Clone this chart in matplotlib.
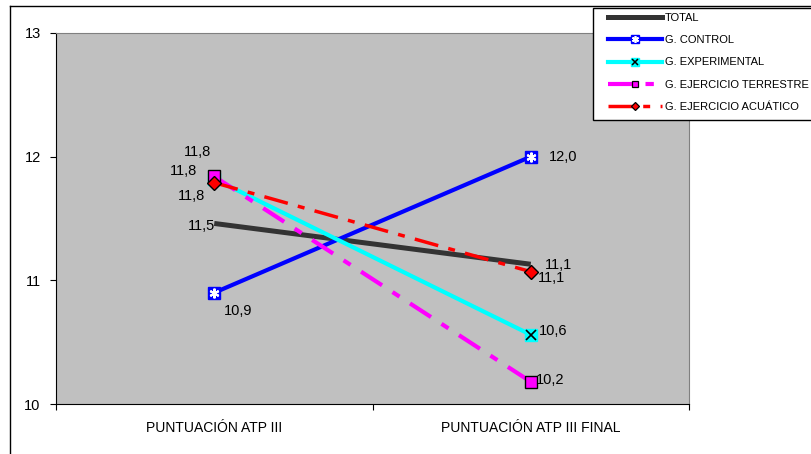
import matplotlib
matplotlib.use("Agg")
import matplotlib.pyplot as plt
from matplotlib.lines import Line2D
from matplotlib.patches import Rectangle

plt.rcParams['font.family'] = ['Liberation Sans', 'DejaVu Sans']

categories = ["PUNTUACIÓN ATP III", "PUNTUACIÓN ATP III FINAL"]
series_names = ["TOTAL", "G. CONTROL", "G. EXPERIMENTAL",
                "G. EJERCICIO TERRESTRE", "G. EJERCICIO ACUÁTICO"]
total = [11.46, 11.13]
control = [10.90, 12.00]
experimental = [11.82, 10.56]
terrestre = [11.84, 10.18]
acuatico = [11.79, 11.07]

fig = plt.figure(figsize=(8.11, 4.54), dpi=100)
ax = fig.add_axes([56/811, 1-404/454, (689-56)/811, (404-33)/454])
ax.set_facecolor("#c0c0c0")

x = [0, 1]
lw = 3.0
ax.plot(x, total, color="#333333", lw=lw+0.6, solid_capstyle="butt")
ax.plot(x, control, color="#0000ff", lw=lw, marker="s", ms=8,
        mfc="#0000ff", mec="#0000ff")
ax.plot(x, control, ls="none", marker=(6, 2, 0), ms=7, mec="white", mew=1.5)
ax.plot(x, experimental, color="#00ffff", lw=lw, marker="s", ms=8,
        mfc="#00ffff", mec="#00ffff")
ax.plot(x, experimental, ls="none", marker="x", ms=7, mec="black", mew=1.2)
ax.plot(x, terrestre, color="#ff00ff", lw=lw, ls=(0, (6, 3, 2, 3)),
        marker="s", ms=8, mfc="#ff00ff", mec="black", mew=1)
ax.plot(x, acuatico, color="#ff0000", lw=lw-0.5, ls=(0, (7, 3, 2, 3)),
        marker="D", ms=7, mfc="#ff0000", mec="black", mew=1)

ax.set_xlim(-0.5, 1.5)
ax.set_ylim(10, 13)
ax.set_yticks([10, 11, 12, 13])
ax.set_xticks([-0.5, 0.5, 1.5])
ax.set_xticklabels([])
ax.set_xticks(x, minor=True)
ax.set_xticklabels(categories, minor=True, fontsize=10)
ax.tick_params(axis="x", which="minor", length=0, pad=12)
ax.tick_params(axis="x", which="major", length=4, direction="out")
ax.tick_params(axis="y", length=4, direction="out", labelsize=10.5, pad=7)
ax.spines["top"].set_color("#808080")
ax.spines["right"].set_color("#808080")

# data labels (offsets in pixels)
labels = [
    (0, experimental[0], (-17, 27)),
    (0, terrestre[0], (-31, 5)),
    (0, acuatico[0], (-23, -13)),
    (0, total[0], (-13, -3)),
    (0, control[0], (24, -18)),
    (1, control[1], (32, 0)),
    (1, total[1], (28, -1)),
    (1, acuatico[1], (21, -6)),
    (1, experimental[1], (22, 4)),
    (1, terrestre[1], (19, 2)),
]
for xi, v, off in labels:
    ax.annotate(f"{v:.1f}".replace(".", ","), (xi, v), xytext=off,
                textcoords="offset pixels", ha="center", va="center", fontsize=10.5)

# outer chart frame
fig.add_artist(Line2D([10/811, 10/811], [0, 1-6/454], transform=fig.transFigure,
                      color="black", lw=1))
fig.add_artist(Line2D([10/811, 1], [1-6/454, 1-6/454], transform=fig.transFigure,
                      color="black", lw=1))

# legend frame drawn separately
fig.add_artist(Rectangle((593/811, 1-120/454), 230/811, 112/454,
                         transform=fig.transFigure, facecolor="white",
                         edgecolor="black", lw=1, zorder=2))

# legend proxies (smaller markers as in the original)
lg = [
    Line2D([], [], color="#333333", lw=lw+0.6),
    (Line2D([], [], color="#0000ff", lw=lw, marker="s", ms=6, mfc="#0000ff", mec="#0000ff"),
     Line2D([], [], ls="none", marker=(6, 2, 0), ms=5, mec="white", mew=1.2)),
    (Line2D([], [], color="#00ffff", lw=lw, marker="s", ms=6, mfc="#00ffff", mec="#00ffff"),
     Line2D([], [], ls="none", marker="x", ms=5, mec="black", mew=1.1)),
    Line2D([], [], color="#ff00ff", lw=lw, ls=(0, (6, 3, 2, 3)), marker="s", ms=4.5,
           mfc="#ff00ff", mec="black", mew=0.9),
    Line2D([], [], color="#ff0000", lw=lw-0.5, ls=(0, (7, 3, 2, 3)), marker="D", ms=4.5,
           mfc="#ff0000", mec="black", mew=0.9),
]
leg = fig.legend(lg, series_names, loc="upper left",
                 bbox_to_anchor=(608/811, 1-13/454),
                 borderaxespad=0, borderpad=0, fontsize=8, handlelength=4.9,
                 handletextpad=0.25, labelspacing=1.1, frameon=False)
leg.set_zorder(3)

fig.savefig("out.png", dpi=100)
